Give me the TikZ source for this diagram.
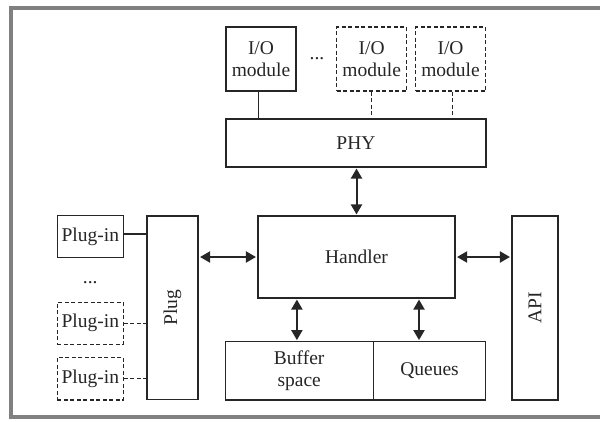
\documentclass[tikz,border=0pt]{standalone}
\usepackage{fontspec}
\setmainfont{Liberation Serif}
\usetikzlibrary{arrows.meta,calc}
\definecolor{ink}{HTML}{262626}
\definecolor{framegray}{HTML}{808080}
\begin{document}
\begin{tikzpicture}[x=1pt,y=-1pt,
  box/.style={draw=ink,line width=1.1pt,rectangle,inner sep=0pt,align=center,text=ink,
    font=\fontsize{19.5}{22}\selectfont},
  dbox/.style={box,dash pattern=on 4pt off 2.5pt},
  link/.style={draw=ink,line width=1.1pt},
  dlink/.style={link,dash pattern=on 4pt off 2.5pt},
  arr/.style={draw=ink,line width=2pt,{Triangle[length=10pt,width=11pt]}-{Triangle[length=10pt,width=11pt]}},
  txt/.style={text=ink,inner sep=0pt,font=\fontsize{19.5}{22}\selectfont}]
\useasboundingbox (0,0) rectangle (600,421);
\draw[framegray,line width=4pt] (603,8) -- (11,8) -- (11,417) -- (603,417);
% top modules
\node[box,minimum width=70pt,minimum height=64pt] (io1) at (261,59) {I/O\\module};
\node[dbox,minimum width=70pt,minimum height=64pt] (io2) at (371.7,59) {I/O\\module};
\node[dbox,minimum width=70pt,minimum height=64pt] (io3) at (450.5,59) {I/O\\module};
\node[txt,anchor=base] (dtop) at (317,59) {...};
\node[box,minimum width=260pt,minimum height=48pt] (phy) at (356,143) {PHY};
% centre
\node[box,minimum width=197pt,minimum height=82pt] (hd) at (356.5,257) {Handler};
\node[box,minimum width=51pt,minimum height=183.5pt] (plug) at (172.5,307.7) {\rotatebox{90}{Plug}};
\node[box,minimum width=46pt,minimum height=184pt] (api) at (535,308) {\rotatebox{90}{API}};
\node[box,minimum width=148.3pt,minimum height=58.3pt] (buf) at (299.2,370.8) {Buffer\\space};
\node[box,minimum width=112.4pt,minimum height=58.3pt] (que) at (429.5,370.8) {Queues};
% plug-ins
\node[box,minimum width=66pt,minimum height=41.6pt] (pi1) at (90.3,236.5) {Plug-in};
\node[dbox,minimum width=66pt,minimum height=42pt] (pi2) at (90.3,323.3) {Plug-in};
\node[dbox,minimum width=66pt,minimum height=42.5pt] (pi3) at (90.3,378.7) {Plug-in};
\node[txt,anchor=base] (dleft) at (90.3,283) {...};
% connectors
\draw[link] ([xshift=-2.7pt]io1.south) -- ([xshift=-2.7pt]io1.south |- phy.north);
\draw[dlink] (io2.south) -- (io2.south |- phy.north);
\draw[dlink] ([xshift=2pt]io3.south) -- ([xshift=2pt]io3.south |- phy.north);
\draw[link] ([yshift=2.5pt]pi1.east) -- ([yshift=2.5pt]pi1.east -| plug.west);
\draw[dlink] (pi2.east) -- (pi2.east -| plug.west);
\draw[dlink] (pi3.east) -- (pi3.east -| plug.west);
\draw[arr] ([yshift=-1pt]phy.south -| hd.north) -- ([yshift=1pt]hd.north);
\draw[arr] ([xshift=1.5pt]hd.west -| plug.east) -- ([xshift=-1.5pt]hd.west);
\draw[arr] ([xshift=1.5pt]hd.east) -- ([xshift=-1.5pt]hd.east -| api.west);
\draw[arr] ([xshift=-2.3pt,yshift=-1pt]buf.north |- hd.south) -- ([xshift=-2.3pt,yshift=1pt]buf.north);
\draw[arr] ([xshift=-10.5pt,yshift=-1pt]que.north |- hd.south) -- ([xshift=-10.5pt,yshift=1pt]que.north);
\end{tikzpicture}
\end{document}
